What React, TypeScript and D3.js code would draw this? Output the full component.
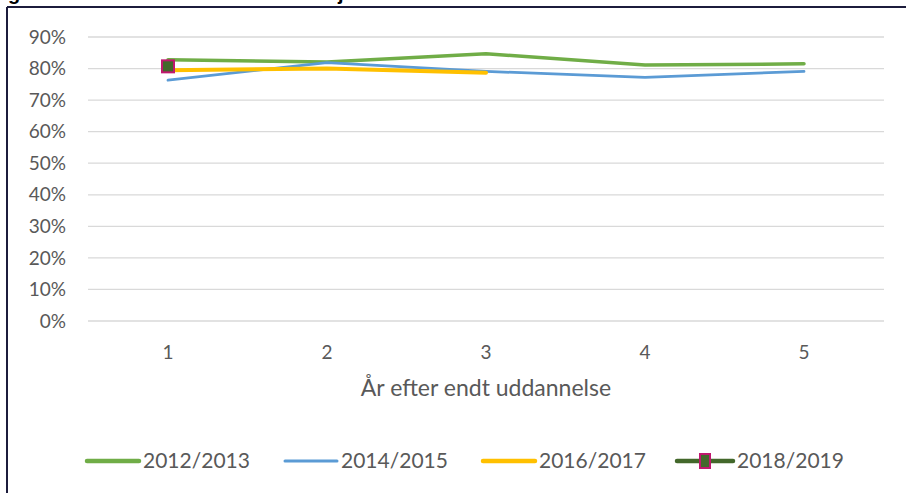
import React from "react";
import * as d3 from "d3";

const categories = ["1", "2", "3", "4", "5"];
const yTicks = [0, 0.1, 0.2, 0.3, 0.4, 0.5, 0.6, 0.7, 0.8, 0.9];
const s2012: (number | null)[] = [0.828, 0.821, 0.847, 0.811, 0.815];
const s2014: (number | null)[] = [0.763, 0.819, 0.791, 0.772, 0.791];
const s2016: (number | null)[] = [0.795, 0.8, 0.787, null, null];
const s2018: (number | null)[] = [0.807, null, null, null, null];
const seriesNames = ["2012/2013", "2014/2015", "2016/2017", "2018/2019"];
const xTitle = "År efter endt uddannelse";

const W = 906;
const H = 493;
const FONT = "Lato, 'Open Sans', sans-serif";

export default function App() {
  const x = d3.scalePoint<string>().domain(categories).range([168, 804]);
  const y = d3.scaleLinear().domain([0, 0.9]).range([321, 37]);
  const line = d3
    .line<number | null>()
    .defined((d) => d != null)
    .x((_, i) => x(categories[i]) as number)
    .y((d) => y(d as number));

  const series = [
    { name: seriesNames[0], data: s2012, color: "#70AD47", width: 3.5 },
    { name: seriesNames[1], data: s2014, color: "#5B9BD5", width: 2.75 },
    { name: seriesNames[2], data: s2016, color: "#FFC000", width: 4 },
  ];

  const legendX = [87, 285, 483, 677];
  const legendY = 461;

  return (
    <svg
      width={W}
      height={H}
      style={{ position: "absolute", left: 0, top: 0, background: "#fff" }}
    >
      <rect x={0} y={0} width={W} height={H} fill="#fff" />
      {/* clipped title remnants */}
      <text x={8} y={0} fontFamily="'Liberation Sans', Arial, sans-serif" fontWeight="bold" fontSize={20} fill="#000">g</text>
      <text x={338} y={0} fontFamily="'Liberation Sans', Arial, sans-serif" fontWeight="bold" fontSize={20} fill="#000">j</text>
      {/* frame */}
      <line x1={7} x2={W} y1={7} y2={7} stroke="#1c1c3c" strokeWidth={2} />
      <line x1={7} x2={7} y1={7} y2={H} stroke="#1c1c3c" strokeWidth={2} />

      {/* gridlines & y labels */}
      {yTicks.map((t) => (
        <g key={t}>
          <line x1={88} x2={884} y1={y(t)} y2={y(t)} stroke="#D9D9D9" strokeWidth={1.3} />
          <text
            x={66}
            y={y(t)}
            dy="0.35em"
            textAnchor="end"
            fontFamily={FONT}
            fontSize={19}
            fill="#595959"
          >
            {d3.format(".0%")(t)}
          </text>
        </g>
      ))}

      {/* x labels */}
      {categories.map((c) => (
        <text
          key={c}
          x={x(c)}
          y={352}
          dy="0.35em"
          textAnchor="middle"
          fontFamily={FONT}
          fontSize={19}
          fill="#595959"
        >
          {c}
        </text>
      ))}
      <text
        x={486}
        y={388}
        dy="0.35em"
        textAnchor="middle"
        fontFamily={FONT}
        fontSize={23}
        fill="#595959"
      >
        {xTitle}
      </text>

      {/* series lines */}
      {series.map((s) => (
        <path
          key={s.name}
          d={line(s.data) || ""}
          fill="none"
          stroke={s.color}
          strokeWidth={s.width}
          strokeLinejoin="round"
          strokeLinecap="round"
        />
      ))}
      {s2018.map((v, i) =>
        v == null ? null : (
          <rect
            key={i}
            x={(x(categories[i]) as number) - 6}
            y={y(v) - 6}
            width={12}
            height={12}
            fill="#43682B"
            stroke="#C0186E"
            strokeWidth={2}
          />
        )
      )}

      {/* legend */}
      {seriesNames.map((n, i) => {
        const lx = legendX[i];
        const isLast = i === 3;
        const len = isLast ? 56 : 52;
        const color = ["#70AD47", "#5B9BD5", "#FFC000", "#43682B"][i];
        return (
          <g key={n}>
            <line
              x1={lx}
              x2={lx + len}
              y1={legendY}
              y2={legendY}
              stroke={color}
              strokeWidth={i === 1 ? 3 : 4.5}
              strokeLinecap="round"
            />
            {isLast && (
              <rect
                x={lx + len / 2 - 5}
                y={legendY - 7}
                width={10}
                height={14}
                fill="#43682B"
                stroke="#C0186E"
                strokeWidth={2}
              />
            )}
            <text
              x={lx + len + 4}
              y={legendY}
              dy="0.35em"
              fontFamily={FONT}
              fontSize={21}
              fill="#595959"
            >
              {n}
            </text>
          </g>
        );
      })}
    </svg>
  );
}
